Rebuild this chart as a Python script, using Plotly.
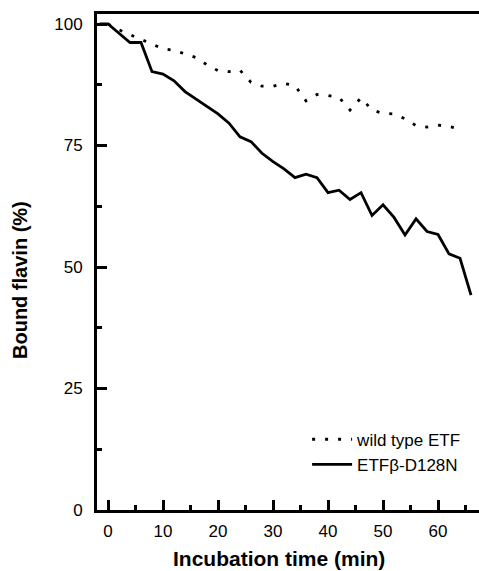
import plotly.graph_objects as go

# Incubation time (min)
t_mut = [-1.5, 0, 2, 4, 6, 8, 10, 12, 14, 16, 18, 20, 22, 24, 26, 28, 30, 32, 34, 36,
         38, 40, 42, 44, 46, 48, 50, 52, 54, 56, 58, 60, 62, 64, 66]
mut = [100, 100, 98.1, 96.2, 96.2, 90.2, 89.7, 88.3, 86.1, 84.6, 83.1, 81.5, 79.6, 76.8,
       75.8, 73.4, 71.7, 70.2, 68.4, 69.1, 68.4, 65.3, 65.8, 63.9, 65.3, 60.6, 62.8, 60.2,
       56.6, 59.9, 57.3, 56.7, 52.7, 51.8, 44.2]

t_wt = [0, 2, 4, 6, 8, 10, 12, 14, 16, 18, 20, 22, 24, 26, 28, 30, 32, 34, 36, 38, 40,
        42, 44, 46, 48, 50, 52, 54, 56, 58, 60, 62, 64]
wt = [100, 98.8, 97.8, 96.8, 95.8, 94.9, 94.6, 93.8, 93.1, 91.6, 90.4, 90.2, 90.5, 88.0,
      87.2, 87.2, 87.8, 87.3, 84.2, 85.5, 85.3, 84.9, 82.3, 84.8, 82.3, 81.6, 81.5, 80.5,
      79.1, 78.8, 79.2, 78.9, 78.4]

names = ["wild type ETF", "ETF\u03b2-D128N"]
x_title = "Incubation time (min)"
y_title = "Bound flavin (%)"

FONT = "Liberation Sans, Arial, sans-serif"
W, H = 479, 571
ML, MR, MT, MB = 97, 0, 14, 61

fig = go.Figure()
fig.add_trace(go.Scatter(x=t_wt, y=wt, mode="lines", name=names[0],
                         line=dict(color="black", width=2.8, dash="3px,10px")))
fig.add_trace(go.Scatter(x=t_mut, y=mut, mode="lines", name=names[1],
                         line=dict(color="black", width=2.8)))

pw, ph = W - ML - MR, H - MT - MB

def px_to_paper(xp, yp):
    return (xp - ML) / pw, (H - MB - yp) / ph

xt = px_to_paper(279, 558)
yt = px_to_paper(20, 280)

fig.update_layout(
    width=W, height=H,
    margin=dict(l=ML, r=MR, t=MT, b=MB),
    paper_bgcolor="white", plot_bgcolor="white",
    font=dict(family=FONT, color="black", size=16),
    showlegend=True,
    legend=dict(x=0.55, y=0.178, xanchor="left", yanchor="top",
                bgcolor="rgba(0,0,0,0)", font=dict(size=17, family=FONT),
                itemwidth=40, tracegroupgap=0),
    annotations=[
        dict(text="<b>" + x_title + "</b>", x=xt[0], y=xt[1], xref="paper", yref="paper",
             xanchor="center", yanchor="middle", showarrow=False,
             font=dict(size=21, family=FONT, color="black")),
        dict(text="<b>" + y_title + "</b>", x=yt[0], y=yt[1], xref="paper", yref="paper",
             xanchor="center", yanchor="middle", showarrow=False, textangle=-90,
             font=dict(size=20, family=FONT, color="black")),
    ],
)
fig.update_xaxes(
    range=[-2, 67.45], showgrid=False, zeroline=False,
    showline=True, linecolor="black", linewidth=3, mirror=True,
    ticks="inside", ticklen=10, tickwidth=2.5, tickcolor="black",
    tickvals=[0, 10, 20, 30, 40, 50, 60],
    minor=dict(ticks="inside", ticklen=5, tickwidth=2.5, tickcolor="black", dtick=5, tick0=0),
    ticklabelstandoff=4,
    tickfont=dict(size=17),
)
fig.update_yaxes(
    range=[0, 102.06], showgrid=False, zeroline=False,
    showline=True, linecolor="black", linewidth=3, mirror=False,
    ticks="inside", ticklen=10, tickwidth=2.5, tickcolor="black",
    tickvals=[0, 25, 50, 75, 100],
    minor=dict(ticks="inside", ticklen=5, tickwidth=2.5, tickcolor="black", dtick=12.5, tick0=0),
    ticklabelstandoff=8,
    tickfont=dict(size=17),
)

fig.write_html("out.html")
